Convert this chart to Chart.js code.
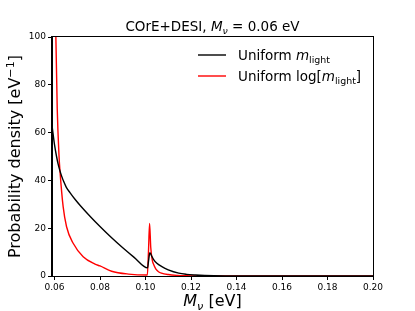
<!DOCTYPE html>
<html>
<head>
<meta charset="utf-8">
<script src="https://cdn.jsdelivr.net/npm/chart.js@4"></script>
<style>
  html, body { margin: 0; padding: 0; background: #fff; }
  #wrap { width: 415px; height: 311px; }
</style>
</head>
<body>
<div id="wrap"><canvas id="chart" width="415" height="311"></canvas></div>
<script>
// Uniform m_light prior (black)
const flatMass = [0.0589, 0.0595, 0.0600, 0.0609, 0.0616, 0.0623, 0.0631, 0.0640, 0.0652, 0.0668, 0.0690, 0.0712, 0.0756, 0.0800, 0.0850, 0.0900, 0.0950, 0.1009,
    0.1013, 0.1019, 0.1025, 0.1035, 0.1050, 0.1072, 0.1100, 0.1146, 0.1180, 0.1220, 0.1260, 0.1300, 0.1350, 0.1400, 0.1500, 0.2000];
const flatDensity = [63.0, 58.5, 55.0, 50.0, 46.8, 44.3, 41.9, 39.6, 37.1, 34.9, 32.1, 29.6, 25.0, 20.7, 16.1, 11.8, 7.8, 3.4,
    6.0, 9.8, 8.8, 7.0, 5.3, 3.9, 2.6, 1.2, 0.7, 0.4, 0.2, 0.1, 0.04, 0.015, 0.003, 0];

// Uniform log[m_light] prior (red)
const logMass = [0.0596, 0.0600, 0.0606, 0.0612, 0.0620, 0.0624, 0.0638, 0.0653, 0.0682, 0.0726, 0.0778, 0.0800, 0.0851, 0.0925, 0.1008,
    0.1013, 0.1018, 0.1023, 0.1030, 0.1035, 0.1045, 0.1057, 0.1070, 0.1100, 0.1140, 0.1180, 0.1250, 0.2000];
const logDensity = [200, 150, 100, 70, 50, 44.0, 29.0, 20.6, 13.7, 8.1, 5.0, 4.2, 2.0, 0.8, 0.4,
    10, 22, 12, 6.5, 5.0, 3.0, 1.8, 1.2, 0.6, 0.25, 0.1, 0.02, 0];

const xTicks = [0.06, 0.08, 0.10, 0.12, 0.14, 0.16, 0.18, 0.20];
const yTicks = [0, 20, 40, 60, 80, 100];

const FONT = "'DejaVu Sans', sans-serif";

function toPoints(xs, ys) {
    return xs.map((x, i) => ({ x: x, y: ys[i] }));
}

// draw a run of text pieces: {t, it, sub, sup}
function richWidth(ctx, segs, size) {
    let w = 0;
    segs.forEach(s => {
        const sz = (s.sub || s.sup) ? size * 0.7 : size;
        ctx.font = (s.it ? 'italic ' : '') + sz + 'px ' + FONT;
        w += ctx.measureText(s.t).width;
    });
    return w;
}
function drawRich(ctx, segs, x, y, size, align) {
    let cx = x;
    if (align === 'center') cx = x - richWidth(ctx, segs, size) / 2;
    ctx.textAlign = 'left';
    ctx.textBaseline = 'alphabetic';
    segs.forEach(s => {
        const sz = (s.sub || s.sup) ? size * 0.7 : size;
        let dy = 0;
        if (s.sub) dy = size * 0.22;
        if (s.sup) dy = -size * 0.38;
        ctx.font = (s.it ? 'italic ' : '') + sz + 'px ' + FONT;
        ctx.fillText(s.t, cx, y + dy);
        cx += ctx.measureText(s.t).width;
    });
}

const textPlugin = {
    id: 'textPlugin',
    afterDraw(chart) {
        const ctx = chart.ctx;
        const a = chart.chartArea;
        ctx.save();
        // frame
        ctx.strokeStyle = '#000';
        ctx.lineWidth = 1;
        ctx.strokeRect(Math.round(a.left) - 0.5, Math.round(a.top) - 0.5, Math.round(a.right - a.left) + 1, Math.round(a.bottom - a.top) + 1);
        ctx.fillStyle = '#000';

        // title
        drawRich(ctx, [
            { t: 'COrE+DESI, ' }, { t: 'M', it: true }, { t: 'ν', it: true, sub: true },
            { t: ' = 0.06 eV' }
        ], (a.left + a.right) / 2, 31, 13.5, 'center');

        // x label
        drawRich(ctx, [
            { t: 'M', it: true }, { t: 'ν', it: true, sub: true }, { t: ' [eV]' }
        ], (a.left + a.right) / 2, 306, 16, 'center');

        // y label
        ctx.save();
        ctx.translate(20, (a.top + a.bottom) / 2);
        ctx.rotate(-Math.PI / 2);
        drawRich(ctx, [
            { t: 'Probability density [eV' }, { t: '−1', sup: true }, { t: ']' }
        ], 0, 0, 16, 'center');
        ctx.restore();

        // legend
        const items = [
            { color: '#000000', y: 55, segs: [{ t: 'Uniform ' }, { t: 'm', it: true }, { t: 'light', sub: true }] },
            { color: '#ff0000', y: 76, segs: [{ t: 'Uniform log[' }, { t: 'm', it: true }, { t: 'light', sub: true }, { t: ']' }] }
        ];
        items.forEach(it => {
            ctx.strokeStyle = it.color;
            ctx.lineWidth = 1.4;
            ctx.beginPath();
            ctx.moveTo(198, it.y);
            ctx.lineTo(226, it.y);
            ctx.stroke();
            drawRich(ctx, it.segs, 238, it.y + 5, 13.5, 'left');
        });
        ctx.restore();
    }
};

new Chart(document.getElementById('chart'), {
    type: 'line',
    data: {
        datasets: [{
            label: 'Uniform m_light',
            data: toPoints(flatMass, flatDensity),
            borderColor: '#000000',
            borderWidth: 1.4,
            pointRadius: 0,
            cubicInterpolationMode: 'monotone',
            clip: 0
        }, {
            label: 'Uniform log[m_light]',
            data: toPoints(logMass, logDensity),
            borderColor: '#ff0000',
            borderWidth: 1.4,
            pointRadius: 0,
            cubicInterpolationMode: 'monotone',
            clip: 0
        }]
    },
    options: {
        responsive: false,
        animation: false,
        layout: { padding: { top: 37, right: 42, bottom: 0, left: 0 } },
        plugins: { legend: { display: false }, title: { display: false }, tooltip: { enabled: false } },
        scales: {
            x: {
                type: 'linear',
                min: 0.0589,
                max: 0.2,
                afterBuildTicks: s => { s.ticks = xTicks.map(v => ({ value: v })); },
                afterFit: s => { s.height = 35; },
                ticks: {
                    callback: v => v.toFixed(2),
                    font: { family: FONT, size: 9 },
                    color: '#000',
                    padding: 2,
                    maxRotation: 0,
                    autoSkip: false
                },
                grid: { drawOnChartArea: false, drawTicks: true, tickLength: 4, color: '#000' },
                border: { display: true, color: '#000', width: 1 }
            },
            y: {
                min: 0,
                max: 100,
                afterBuildTicks: s => { s.ticks = yTicks.map(v => ({ value: v })); },
                afterFit: s => { s.width = 52; },
                ticks: {
                    font: { family: FONT, size: 9 },
                    color: '#000',
                    padding: 2
                },
                grid: { drawOnChartArea: false, drawTicks: true, tickLength: 4, color: '#000' },
                border: { display: true, color: '#000', width: 1 }
            }
        }
    },
    plugins: [textPlugin]
});
</script>
</body>
</html>
